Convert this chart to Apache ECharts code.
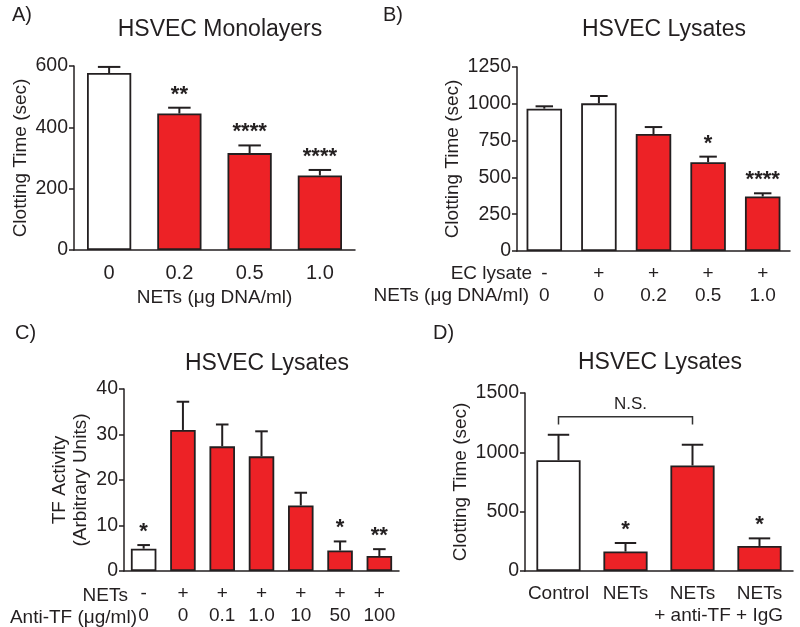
<!DOCTYPE html>
<html>
<head>
<meta charset="utf-8">
<script src="https://cdn.jsdelivr.net/npm/echarts@6/dist/echarts.min.js"></script>
<style>
  html, body { margin: 0; padding: 0; background: #fff; }
  #main { width: 800px; height: 627px; }
</style>
</head>
<body>
<div id="main"></div>
<script>
var dom = document.getElementById("main");
var chart = echarts.init(dom);

// Panel A - HSVEC monolayers
var catsA = ['0', '0.2', '0.5', '1.0'];
var valsA = [577, 445, 316, 243];
var errA = [597, 464, 341, 261];
var starsA = ['', '**', '****', '****'];

// Panel B - HSVEC lysates
var lysateB = ['-', '+', '+', '+', '+'];
var netsB = ['0', '0', '0.2', '0.5', '1.0'];
var valsB = [967, 1003, 795, 603, 370];
var errB = [983, 1053, 842, 641, 392];
var starsB = ['', '', '', '*', '****'];

// Panel C - TF activity
var netsC = ['-', '+', '+', '+', '+', '+', '+'];
var antiTfC = ['0', '0', '0.1', '1.0', '10', '50', '100'];
var valsC = [4.9, 31.0, 27.4, 25.2, 14.4, 4.5, 3.3];
var errC = [5.7, 37.2, 32.2, 30.7, 17.2, 6.5, 4.8];
var starsC = ['*', '', '', '', '', '*', '**'];

// Panel D - HSVEC lysates
var catsD = ['Control', 'NETs', 'NETs\n+ anti-TF', 'NETs\n+ IgG'];
var valsD = [933, 164, 889, 211];
var errD = [1148, 236, 1064, 275];
var starsD = ['', '*', '', '*'];
var nsBracket = [0, 2, 1300, 1235];

var RED = '#ed2226';
var INK = '#231f20';
var FONT = 'Liberation Sans';

function barData(vals, whiteCount) {
    return vals.map(function (v, i) {
        return {value: v, itemStyle: {color: i < whiteCount ? '#ffffff' : RED}};
    });
}
function errData(vals, tops, stars) {
    return vals.map(function (v, i) { return [i, v, tops[i], stars[i]]; });
}
function errRender(params, api) {
    var i = api.value(0);
    var p0 = api.coord([i, api.value(1)]);
    var p1 = api.coord([i, api.value(2)]);
    var bw = api.size([1, 0])[0] * 0.64;
    var cap = bw * 0.5;
    var stars = api.value(3);
    var kids = [
        {type: 'line', shape: {x1: p0[0], y1: p0[1], x2: p1[0], y2: p1[1]}, style: {stroke: INK, lineWidth: 2}},
        {type: 'line', shape: {x1: p1[0] - cap / 2, y1: p1[1], x2: p1[0] + cap / 2, y2: p1[1]}, style: {stroke: INK, lineWidth: 2}}
    ];
    if (stars) {
        kids.push({type: 'text', style: {text: stars, x: p1[0], y: p1[1] - 2, align: 'center', verticalAlign: 'bottom',
            fontSize: 22, fontWeight: 'bold', fontFamily: FONT, fill: INK}});
    }
    return {type: 'group', children: kids};
}
function bracketRender(params, api) {
    var a = api.coord([api.value(0), api.value(2)]);
    var b = api.coord([api.value(1), api.value(2)]);
    var d = api.coord([api.value(0), api.value(3)]);
    return {type: 'group', children: [
        {type: 'polyline', shape: {points: [[a[0], d[1]], a, b, [b[0], d[1]]]}, style: {stroke: '#333', lineWidth: 1.5, fill: null}},
        {type: 'text', style: {text: 'N.S.', x: (a[0] + b[0]) / 2 + 5, y: a[1] - 4, align: 'center', verticalAlign: 'bottom',
            fontSize: 17, fontFamily: FONT, fill: INK}}
    ]};
}

var grids = [
    {left: 74, top: 66, width: 281, height: 184},
    {left: 517, top: 67, width: 273, height: 184},
    {left: 124, top: 389, width: 275, height: 184},
    {left: 525, top: 393, width: 268, height: 180}
];

function xAxis(idx, data, size, extra) {
    var ax = {
        type: 'category', gridIndex: idx, data: data,
        axisLine: {lineStyle: {color: INK, width: 1.5}},
        axisTick: {alignWithLabel: true, length: 5, lineStyle: {color: INK, width: 1.5}},
        axisLabel: {color: INK, fontSize: size, fontFamily: FONT, margin: 12, lineHeight: 22, interval: 0}
    };
    for (var k in extra) ax[k] = extra[k];
    return ax;
}
function yAxis(idx, max, interval, name, gap) {
    return {
        type: 'value', gridIndex: idx, min: 0, max: max, interval: interval,
        name: name, nameLocation: 'middle', nameGap: gap,
        nameTextStyle: {color: INK, fontSize: 19, fontFamily: FONT, lineHeight: 21},
        splitLine: {show: false},
        axisLine: {show: true, lineStyle: {color: INK, width: 1.5}},
        axisTick: {show: true, length: 5, lineStyle: {color: INK, width: 1.5}},
        axisLabel: {color: INK, fontSize: 19.5, fontFamily: FONT, margin: 6,
            formatter: function (v) { return String(v); }}
    };
}

option = {
    animation: false,
    backgroundColor: '#ffffff',
    grid: grids,
    xAxis: [
        xAxis(0, catsA, 20, {name: 'NETs (\u03bcg DNA/ml)', nameLocation: 'middle', nameGap: 38,
            nameTextStyle: {color: INK, fontSize: 19, fontFamily: FONT}}),
        xAxis(1, lysateB.map(function (s, i) { return s + '\n' + netsB[i]; }), 19, {}),
        xAxis(2, netsC.map(function (s, i) { return s + '\n' + antiTfC[i]; }), 19, {}),
        xAxis(3, catsD, 19, {})
    ],
    yAxis: [
        yAxis(0, 600, 200, 'Clotting Time (sec)', 42),
        yAxis(1, 1250, 250, 'Clotting Time (sec)', 48),
        yAxis(2, 40, 10, 'TF Activity\n(Arbitrary Units)', 33),
        yAxis(3, 1500, 500, 'Clotting Time (sec)', 50)
    ],
    graphic: [
        {type: 'text', left: 12, top: 5, style: {text: 'A)', fontSize: 20, fontFamily: FONT, fill: INK}},
        {type: 'text', left: 383, top: 5, style: {text: 'B)', fontSize: 20, fontFamily: FONT, fill: INK}},
        {type: 'text', left: 15, top: 323, style: {text: 'C)', fontSize: 20, fontFamily: FONT, fill: INK}},
        {type: 'text', left: 433, top: 323, style: {text: 'D)', fontSize: 20, fontFamily: FONT, fill: INK}},
        {type: 'text', x: 220, y: 30, style: {text: 'HSVEC Monolayers', align: 'center', verticalAlign: 'middle', fontSize: 23, fontFamily: FONT, fill: INK}},
        {type: 'text', x: 664, y: 30, style: {text: 'HSVEC Lysates', align: 'center', verticalAlign: 'middle', fontSize: 23, fontFamily: FONT, fill: INK}},
        {type: 'text', x: 267, y: 364, style: {text: 'HSVEC Lysates', align: 'center', verticalAlign: 'middle', fontSize: 23, fontFamily: FONT, fill: INK}},
        {type: 'text', x: 660, y: 363, style: {text: 'HSVEC Lysates', align: 'center', verticalAlign: 'middle', fontSize: 23, fontFamily: FONT, fill: INK}},
        {type: 'text', x: 532, y: 274, style: {text: 'EC lysate', align: 'right', verticalAlign: 'middle', fontSize: 19, fontFamily: FONT, fill: INK}},
        {type: 'text', x: 529, y: 296, style: {text: 'NETs (\u03bcg DNA/ml)', align: 'right', verticalAlign: 'middle', fontSize: 19, fontFamily: FONT, fill: INK}},
        {type: 'text', x: 128, y: 596, style: {text: 'NETs', align: 'right', verticalAlign: 'middle', fontSize: 19, fontFamily: FONT, fill: INK}},
        {type: 'text', x: 137, y: 618, style: {text: 'Anti-TF (\u03bcg/ml)', align: 'right', verticalAlign: 'middle', fontSize: 19, fontFamily: FONT, fill: INK}}
    ],
    series: [
        {type: 'bar', xAxisIndex: 0, yAxisIndex: 0, data: barData(valsA, 1), barWidth: '63%',
            itemStyle: {borderColor: INK, borderWidth: 1.8}},
        {type: 'bar', xAxisIndex: 1, yAxisIndex: 1, data: barData(valsB, 2), barWidth: '65%',
            itemStyle: {borderColor: INK, borderWidth: 1.8}},
        {type: 'bar', xAxisIndex: 2, yAxisIndex: 2, data: barData(valsC, 1), barWidth: '65%',
            itemStyle: {borderColor: INK, borderWidth: 1.8}},
        {type: 'bar', xAxisIndex: 3, yAxisIndex: 3, data: barData(valsD, 1), barWidth: '66%',
            itemStyle: {borderColor: INK, borderWidth: 1.8}},
        {type: 'custom', xAxisIndex: 0, yAxisIndex: 0, data: errData(valsA, errA, starsA), renderItem: errRender, z: 1},
        {type: 'custom', xAxisIndex: 1, yAxisIndex: 1, data: errData(valsB, errB, starsB), renderItem: errRender, z: 1},
        {type: 'custom', xAxisIndex: 2, yAxisIndex: 2, data: errData(valsC, errC, starsC), renderItem: errRender, z: 1},
        {type: 'custom', xAxisIndex: 3, yAxisIndex: 3, data: errData(valsD, errD, starsD), renderItem: errRender, z: 1},
        {type: 'custom', xAxisIndex: 3, yAxisIndex: 3, data: [nsBracket], renderItem: bracketRender, z: 1}
    ]
};

chart.setOption(option, true);
</script>
</body>
</html>
